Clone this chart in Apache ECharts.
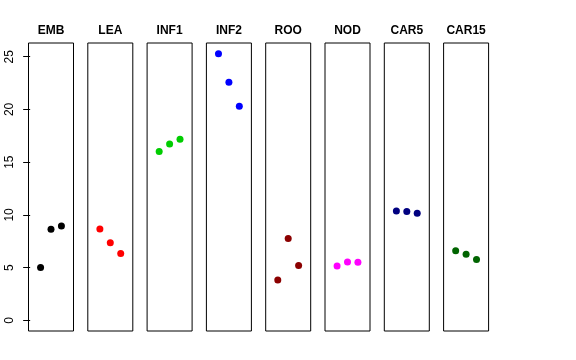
<!DOCTYPE html>
<html>
<head>
<meta charset="utf-8">
<script src="https://cdn.jsdelivr.net/npm/echarts@6/dist/echarts.min.js"></script>
<style>
html,body{margin:0;padding:0;background:#fff;}
#c{width:576px;height:360px;}
</style>
</head>
<body>
<div id="c"></div>
<script>
// Data
var categories = ["EMB", "LEA", "INF1", "INF2", "ROO", "NOD", "CAR5", "CAR15"];
var xPositions = [1, 2, 3];
var EMB   = [5.0, 8.63, 8.95];
var LEA   = [8.66, 7.37, 6.33];
var INF1  = [16.0, 16.73, 17.17];
var INF2  = [25.27, 22.58, 20.3];
var ROO   = [3.83, 7.75, 5.19];
var NOD   = [5.15, 5.53, 5.5];
var CAR5  = [10.37, 10.31, 10.15];
var CAR15 = [6.61, 6.26, 5.76];
var seriesValues = [EMB, LEA, INF1, INF2, ROO, NOD, CAR5, CAR15];
var colors = ["#000000", "#FF0000", "#00CD00", "#0000FF", "#8B0000", "#FF00FF", "#000080", "#006400"];
var yTickLabels = [0, 5, 10, 15, 20, 25];

var FONT = "Liberation Sans, Arial, Helvetica, sans-serif";
var panelLeft0 = 28.5, panelStep = 59.3, panelW = 45, panelTop = 43, panelH = 288;
var yMin = -1.01, yMax = 26.3;

var grids = [], xAxes = [], yAxes = [], series = [], titleTexts = [];
categories.forEach(function (name, i) {
  var left = panelLeft0 + panelStep * i;
  grids.push({
    left: left, top: panelTop, width: panelW, height: panelH,
    show: true, borderColor: "#000", borderWidth: 1, backgroundColor: "transparent",
    containLabel: false
  });
  xAxes.push({
    gridIndex: i, type: "value", min: -0.16, max: 4.16,
    show: false
  });
  yAxes.push({
    gridIndex: i, type: "value", min: yMin, max: yMax,
    show: i === 0,
    splitLine: { show: false },
    axisLine: { show: false },
    axisTick: i === 0 ? { show: true, length: 7, lineStyle: { color: "#000", width: 1 }, customValues: yTickLabels } : { show: false },
    axisLabel: i === 0 ? {
      show: true, rotate: 90, margin: 13, color: "#000",
      fontFamily: FONT, fontSize: 12, customValues: yTickLabels,
      formatter: function (v) { return String(v); }
    } : { show: false }
  });
  series.push({
    type: "scatter", xAxisIndex: i, yAxisIndex: i,
    symbol: "circle", symbolSize: 7,
    itemStyle: { color: colors[i], opacity: 1 },
    emphasis: { disabled: true },
    silent: true, animation: false,
    data: seriesValues[i].map(function (v, k) { return [xPositions[k], v]; })
  });
  titleTexts.push({
    type: "text", x: left + panelW / 2, y: 30.5,
    style: {
      text: name, align: "center", verticalAlign: "middle",
      fontFamily: FONT, fontSize: 12, fontWeight: "bold", fill: "#000"
    }
  });
});

var chart = echarts.init(document.getElementById("c"), null, { renderer: "canvas" });
chart.setOption({
  animation: false,
  backgroundColor: "#fff",
  graphic: titleTexts,
  grid: grids,
  xAxis: xAxes,
  yAxis: yAxes,
  series: series
});
</script>
</body>
</html>
